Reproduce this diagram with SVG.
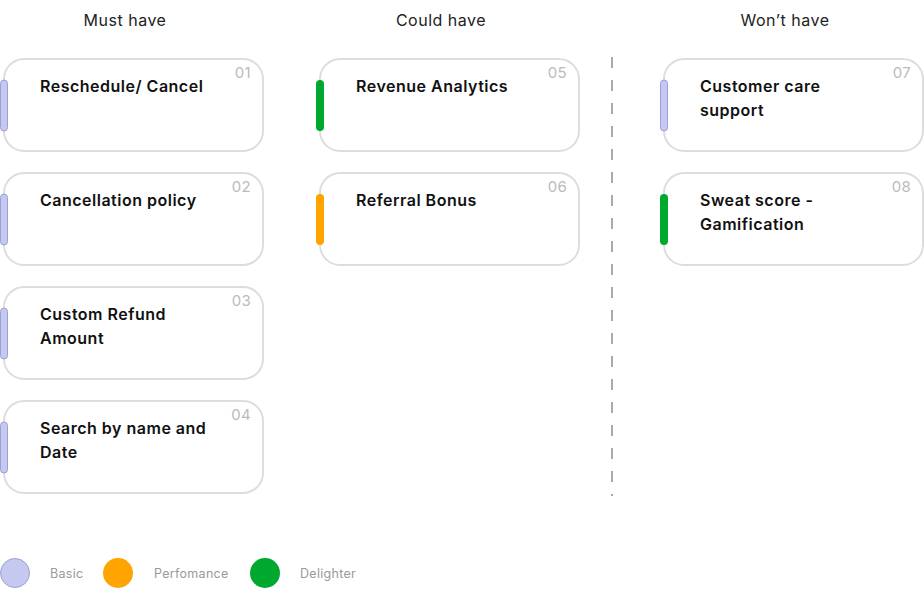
<svg xmlns="http://www.w3.org/2000/svg" width="924" height="598" viewBox="0 0 924 598">
<style>
.head{font-family:Inter,"Open Sans","Liberation Sans",sans-serif;font-size:16px;letter-spacing:0.5px;fill:#222;text-anchor:middle}
.card{fill:#fff;stroke:#ddd;stroke-width:2}
.t{font-family:Inter,"Open Sans","Liberation Sans",sans-serif;font-size:16px;letter-spacing:0.5px;font-weight:600;fill:#111}
.n{font-family:Inter,"Open Sans","Liberation Sans",sans-serif;font-size:15px;letter-spacing:0.3px;fill:#bbb;text-anchor:end}
.basic{fill:#c5c9ef;stroke:#9aa0d8;stroke-width:1}
.perf{fill:#ffa400}
.del{fill:#00a82d}
.lg{font-family:Inter,"Open Sans","Liberation Sans",sans-serif;font-size:12.5px;letter-spacing:0.3px;fill:#999}
</style>
<rect width="924" height="598" fill="#fff"/>
<text class="head" x="125" y="26">Must have</text>
<text class="head" x="441" y="26">Could have</text>
<text class="head" x="785" y="26">Won’t have</text>
<g id="divider"><line x1="612" y1="57" x2="612" y2="496" stroke="#aaa" stroke-width="2" stroke-dasharray="11 12"/></g>
<g id="card01"><rect class="card" x="4" y="59" width="259" height="92" rx="20"/><rect class="basic" x="0.5" y="80" width="7" height="51" rx="3.5"/><text class="t" x="40" y="92">Reschedule/ Cancel</text><text class="n" x="251" y="78">01</text></g>
<g id="card02"><rect class="card" x="4" y="173" width="259" height="92" rx="20"/><rect class="basic" x="0.5" y="194" width="7" height="51" rx="3.5"/><text class="t" x="40" y="206">Cancellation policy</text><text class="n" x="251" y="192">02</text></g>
<g id="card03"><rect class="card" x="4" y="287" width="259" height="92" rx="20"/><rect class="basic" x="0.5" y="308" width="7" height="51" rx="3.5"/><text class="t" x="40" y="320">Custom Refund</text><text class="t" x="40" y="344">Amount</text><text class="n" x="251" y="306">03</text></g>
<g id="card04"><rect class="card" x="4" y="401" width="259" height="92" rx="20"/><rect class="basic" x="0.5" y="422" width="7" height="51" rx="3.5"/><text class="t" x="40" y="434">Search by name and</text><text class="t" x="40" y="458">Date</text><text class="n" x="251" y="420">04</text></g>
<g id="card05"><rect class="card" x="320" y="59" width="259" height="92" rx="20"/><rect class="del" x="316" y="80" width="8" height="51" rx="4"/><text class="t" x="356" y="92">Revenue Analytics</text><text class="n" x="567" y="78">05</text></g>
<g id="card06"><rect class="card" x="320" y="173" width="259" height="92" rx="20"/><rect class="perf" x="316" y="194" width="8" height="51" rx="4"/><text class="t" x="356" y="206">Referral Bonus</text><text class="n" x="567" y="192">06</text></g>
<g id="card07"><rect class="card" x="664" y="59" width="259" height="92" rx="20"/><rect class="basic" x="660.5" y="80" width="7" height="51" rx="3.5"/><text class="t" x="700" y="92">Customer care</text><text class="t" x="700" y="116">support</text><text class="n" x="911" y="78">07</text></g>
<g id="card08"><rect class="card" x="664" y="173" width="259" height="92" rx="20"/><rect class="del" x="660" y="194" width="8" height="51" rx="4"/><text class="t" x="700" y="206">Sweat score -</text><text class="t" x="700" y="230">Gamification</text><text class="n" x="911" y="192">08</text></g>
<g id="legend">
<circle class="basic" cx="15" cy="573" r="14.5"/><text class="lg" x="50" y="578">Basic</text>
<circle class="perf" cx="118" cy="573" r="15"/><text class="lg" x="154" y="578">Perfomance</text>
<circle class="del" cx="265" cy="573" r="15"/><text class="lg" x="300" y="578">Delighter</text>
</g>
</svg>
